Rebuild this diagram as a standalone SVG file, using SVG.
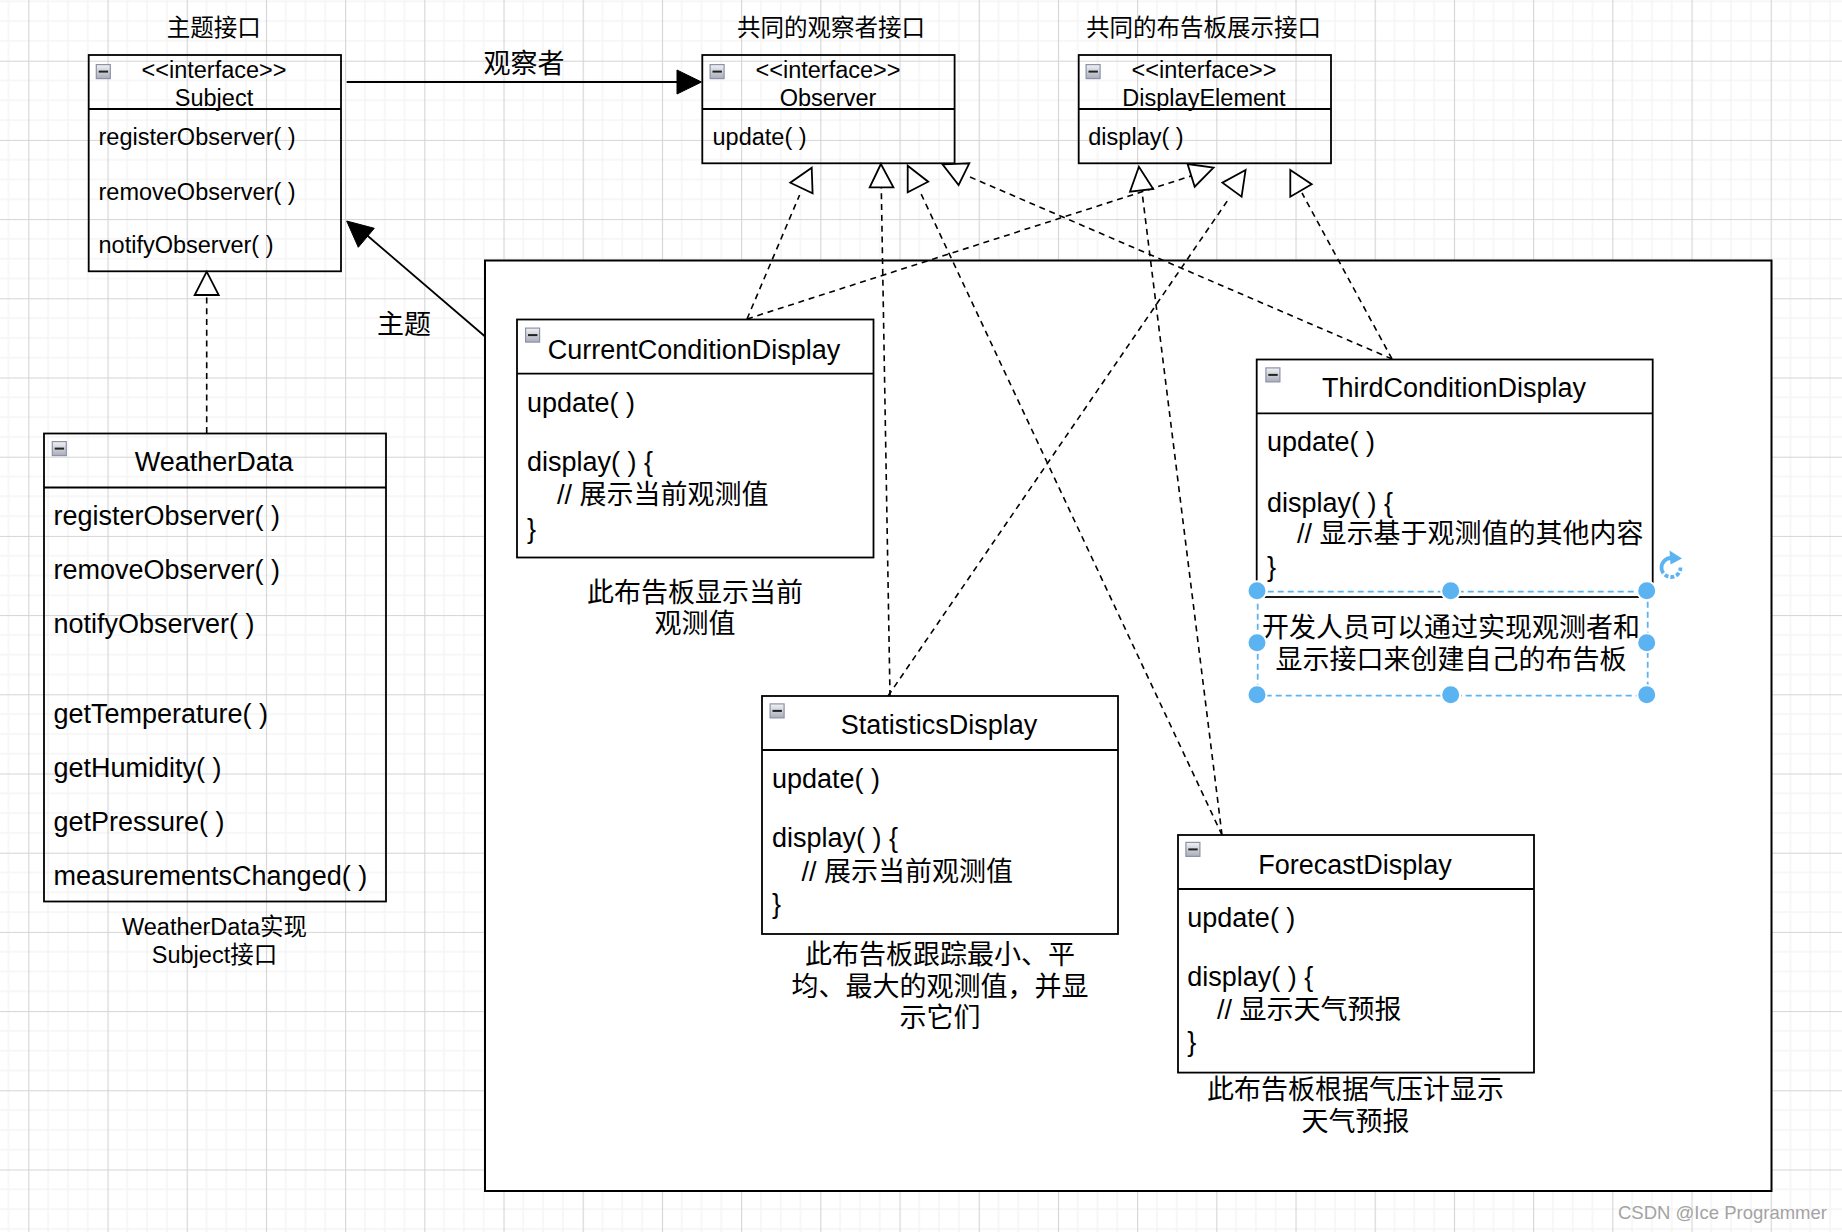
<svg xmlns="http://www.w3.org/2000/svg" xmlns:xlink="http://www.w3.org/1999/xlink" width="1842" height="1232" viewBox="0 0 1842 1232">
<style>
text{font-family:"Liberation Sans","Noto Sans CJK SC",sans-serif;fill:#000}
.s{font-size:23.5px}
.b{font-size:27px}
.m{text-anchor:middle}
.box{fill:none;stroke:#000;stroke-width:1.8}
.white{fill:#fff}
.dash{fill:none;stroke:#000;stroke-width:1.6;stroke-dasharray:6 4.8}
.tri{fill:#fff;stroke:#000;stroke-width:1.8;stroke-linejoin:miter}
.solid{fill:none;stroke:#000;stroke-width:1.8}
.head{fill:#000;stroke:#000;stroke-width:1}
.h{fill:#5cb3f2;stroke:#fff;stroke-width:2}
</style>
<defs>
<pattern id="grid" x="28.3" y="60.7" width="79.2" height="79.2" patternUnits="userSpaceOnUse">
<path d="M19.8 0V79.2M39.6 0V79.2M59.4 0V79.2M0 19.8H79.2M0 39.6H79.2M0 59.4H79.2" fill="none" stroke="#f5f5f5" stroke-width="1.6"/>
<path d="M0.5 0V79.2M0 0.5H79.2" fill="none" stroke="#d4d4d4" stroke-width="1.2"/>
</pattern>
<linearGradient id="ig" x1="0" y1="0" x2="0" y2="1"><stop offset="0" stop-color="#f2f2f4"/><stop offset="1" stop-color="#a9adb8"/></linearGradient>
<g id="minus"><rect x="0.6" y="0.6" width="14" height="14" fill="url(#ig)" stroke="#8c93a8" stroke-width="1.2"/><path d="M3 7.6H12.4" stroke="#222" stroke-width="2"/></g>
</defs>
<rect id="background" width="1842" height="1232" fill="#fff"/>
<rect id="grid-paper" width="1842" height="1232" fill="url(#grid)"/>
<g id="outer-frame"><rect x="485" y="260.5" width="1286.5" height="930.5" class="white" stroke="#000" stroke-width="2"/></g>

<g id="title-subject"><text class="s m" x="213.8" y="36">主题接口</text></g>
<g id="title-observer"><text class="s m" x="830.9" y="36">共同的观察者接口</text></g>
<g id="title-display"><text class="s m" x="1203.5" y="36">共同的布告板展示接口</text></g>
<g id="label-observer"><text class="b m" x="524" y="72.5">观察者</text></g>
<g id="label-subject"><text class="b m" x="404" y="333.5">主题</text></g>

<g id="Subject">
<rect class="box" x="88.7" y="55" width="252.3" height="216.3"/><path class="box" d="M88.7 109H341"/>
<use href="#minus" x="95.7" y="64"/>
<text class="s m" x="214" y="77.5">&lt;&lt;interface&gt;&gt;</text>
<text class="s m" x="214" y="105.5">Subject</text>
<text class="s" x="98.5" y="145">registerObserver( )</text>
<text class="s" x="98.5" y="199.5">removeObserver( )</text>
<text class="s" x="98.5" y="253">notifyObserver( )</text>
</g>
<g id="Observer">
<rect class="box" x="702.3" y="55" width="252.3" height="108.3"/><path class="box" d="M702.3 109H954.6"/>
<use href="#minus" x="709.5" y="64"/>
<text class="s m" x="828" y="77.5">&lt;&lt;interface&gt;&gt;</text>
<text class="s m" x="828" y="105.5">Observer</text>
<text class="s" x="712.5" y="145">update( )</text>
</g>
<g id="DisplayElement">
<rect class="box" x="1078.7" y="55" width="252.3" height="108.3"/><path class="box" d="M1078.7 109H1331"/>
<use href="#minus" x="1085.5" y="64"/>
<text class="s m" x="1204" y="77.5">&lt;&lt;interface&gt;&gt;</text>
<text class="s m" x="1204" y="105.5">DisplayElement</text>
<text class="s" x="1088.3" y="145">display( )</text>
</g>
<g id="WeatherData">
<rect class="box" x="44" y="433.5" width="342" height="468"/><path class="box" d="M44 487.5H386"/>
<use href="#minus" x="51.7" y="441"/>
<text class="b m" x="214" y="471">WeatherData</text>
<text class="b" x="53.5" y="525">registerObserver( )</text>
<text class="b" x="53.5" y="579">removeObserver( )</text>
<text class="b" x="53.5" y="633.3">notifyObserver( )</text>
<text class="b" x="53.5" y="723.3">getTemperature( )</text>
<text class="b" x="53.5" y="776.8">getHumidity( )</text>
<text class="b" x="53.5" y="830.8">getPressure( )</text>
<text class="b" x="53.5" y="885.3">measurementsChanged( )</text>
</g>
<g id="WeatherData-note"><text class="s m" x="214.5" y="935">WeatherData实现</text><text class="s m" x="214.5" y="963">Subject接口</text></g>

<g id="CurrentConditionDisplay">
<rect class="box" x="517" y="319.5" width="356.5" height="238"/><path class="box" d="M517 373.6H873.5"/>
<use href="#minus" x="525" y="327.5"/>
<text class="b m" x="694" y="358.5">CurrentConditionDisplay</text>
<text class="b" x="527" y="412">update( )</text>
<text class="b" x="527" y="471">display( ) {</text>
<text class="b" x="557" y="504">// 展示当前观测值</text>
<text class="b" x="527" y="537.5">}</text>
</g>
<g id="CurrentConditionDisplay-note"><text class="b m" x="695" y="601.5">此布告板显示当前</text><text class="b m" x="695" y="633">观测值</text></g>

<g id="ThirdConditionDisplay">
<rect class="box" x="1256.7" y="359.5" width="396" height="237.5"/><path class="box" d="M1256.7 413.3H1652.7"/>
<use href="#minus" x="1265.3" y="367.3"/>
<text class="b m" x="1454" y="397">ThirdConditionDisplay</text>
<text class="b" x="1267" y="451">update( )</text>
<text class="b" x="1267" y="511.5">display( ) {</text>
<text class="b" x="1297" y="542.5">// 显示基于观测值的其他内容</text>
<text class="b" x="1267" y="575.5">}</text>
</g>

<g id="StatisticsDisplay">
<rect class="box" x="762" y="696" width="356" height="238"/><path class="box" d="M762 750H1118"/>
<use href="#minus" x="769.5" y="703.3"/>
<text class="b m" x="939" y="734">StatisticsDisplay</text>
<text class="b" x="772" y="788">update( )</text>
<text class="b" x="772" y="847">display( ) {</text>
<text class="b" x="801.5" y="880.5">// 展示当前观测值</text>
<text class="b" x="772" y="912.5">}</text>
</g>
<g id="StatisticsDisplay-note"><text class="b m" x="940" y="964">此布告板跟踪最小、平</text><text class="b m" x="940" y="995.5">均、最大的观测值，并显</text><text class="b m" x="940" y="1027">示它们</text></g>

<g id="ForecastDisplay">
<rect class="box" x="1178" y="835" width="356" height="237.6"/><path class="box" d="M1178 889H1534"/>
<use href="#minus" x="1185.3" y="841.8"/>
<text class="b m" x="1355" y="873.5">ForecastDisplay</text>
<text class="b" x="1187.3" y="927">update( )</text>
<text class="b" x="1187.3" y="986">display( ) {</text>
<text class="b" x="1217" y="1018.5">// 显示天气预报</text>
<text class="b" x="1187.3" y="1051">}</text>
</g>
<g id="ForecastDisplay-note"><text class="b m" x="1355.5" y="1098.5">此布告板根据气压计显示</text><text class="b m" x="1355.5" y="1130.5">天气预报</text></g>

<g id="connectors">
<path class="solid" d="M346.7 82H680"/>
<polygon class="head" points="701.5,82 677,70 677,94"/>
<path class="solid" d="M484.5 336L362 231"/>
<polygon class="head" points="346.7,221 374.3,228.3 358.3,247.3"/>
<path class="dash" d="M206.7 433V295"/>
<polygon class="tri" points="206.7,271.7 194.7,295 218.7,295"/>
<path class="dash" d="M747 319L799.6 195"/>
<polygon class="tri" points="811.7,167.7 790.3,182.7 812.6,193.3"/>
<path class="dash" d="M747 319L1191 176"/>
<polygon class="tri" points="1187.6,164 1213.5,167.7 1194.7,186.7"/>
<path class="dash" d="M890 696L881.3 188"/>
<polygon class="tri" points="880.9,164 869.7,187.3 893.4,187.3"/>
<path class="dash" d="M888 696L1230 197"/>
<polygon class="tri" points="1245.6,170 1222.4,182.7 1241.6,196.7"/>
<path class="dash" d="M1222 835L920.2 192"/>
<polygon class="tri" points="907.7,165.7 928.2,181.7 907.7,192.3"/>
<path class="dash" d="M1222 835L1142 191.7"/>
<polygon class="tri" points="1138.9,166.7 1130,191.7 1153.2,189"/>
<path class="dash" d="M1392 359L970 177"/>
<polygon class="tri" points="942.5,164.3 969.3,163.3 958.6,185"/>
<path class="dash" d="M1392 359L1302 193"/>
<polygon class="tri" points="1290.3,170 1311.7,184.3 1290.3,196.7"/>
</g>

<g id="selected-note">
<rect x="1257.7" y="591.7" width="390" height="104" fill="none" stroke="#5cb3f2" stroke-width="1.8" stroke-dasharray="6 4"/>
<text class="b m" x="1451" y="637">开发人员可以通过实现观测者和</text>
<text class="b m" x="1451" y="669">显示接口来创建自己的布告板</text>
<circle class="h" cx="1257" cy="590.7" r="9.5"/><circle class="h" cx="1450.7" cy="590.7" r="9.5"/><circle class="h" cx="1646.7" cy="590.7" r="9.5"/>
<circle class="h" cx="1257" cy="642.7" r="9.5"/><circle class="h" cx="1646.7" cy="642.7" r="9.5"/>
<circle class="h" cx="1257" cy="694.7" r="9.5"/><circle class="h" cx="1450.7" cy="694.7" r="9.5"/><circle class="h" cx="1646.7" cy="694.7" r="9.5"/>
<path d="M1671 558A9.5 9.5 0 1 0 1680.5 567.5" fill="none" stroke="#5cb3f2" stroke-width="3.8" stroke-dasharray="17 0 4 2 4 2 4 2 4 2"/>
<path d="M1669.5 550.5L1682 558.5L1670.5 564.5Z" fill="#5cb3f2"/>
</g>
<g id="watermark"><text x="1618" y="1219" style="font-size:18.5px;fill:#a3a3a3">CSDN @Ice Programmer</text></g>
</svg>
